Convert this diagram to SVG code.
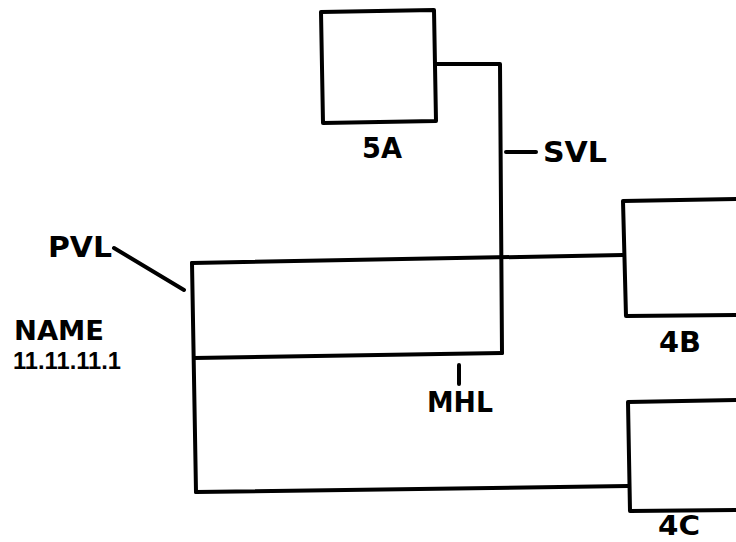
<svg xmlns="http://www.w3.org/2000/svg" width="736" height="542" viewBox="0 0 736 542">
<style>
.ln{fill:none;stroke:#000;stroke-width:4;stroke-linecap:round;stroke-linejoin:round}
.t{font-family:"DejaVu Sans","Liberation Sans",sans-serif;font-weight:bold;font-size:28px;fill:#000}
</style>
<rect width="736" height="542" fill="#fff"/>
<g id="connectors" class="ln">
<polyline points="435,64 500,64 502,353"/>
<line x1="192" y1="263" x2="623" y2="255"/>
<line x1="194" y1="358" x2="502" y2="353"/>
<line x1="192" y1="263" x2="196" y2="492"/>
<line x1="196" y1="492" x2="628" y2="486"/>
<line x1="114" y1="248" x2="184" y2="290"/>
<line x1="506" y1="152" x2="536" y2="152"/>
<line x1="459" y1="365" x2="459" y2="384"/>
</g>
<g id="node-5A">
<polygon class="ln" points="321,12 434,10 436,121 323,123"/>
<text class="t" x="382" y="158" text-anchor="middle" textLength="40" lengthAdjust="spacingAndGlyphs">5A</text>
</g>
<g id="node-4B">
<polyline class="ln" points="738,199 623,201 626,316 738,315"/>
<text class="t" x="680" y="352" text-anchor="middle" textLength="42" lengthAdjust="spacingAndGlyphs">4B</text>
</g>
<g id="node-4C">
<polyline class="ln" points="738,400 628,402 630,511 738,510"/>
<text class="t" x="679" y="535" style="font-size:26px" text-anchor="middle" textLength="42" lengthAdjust="spacingAndGlyphs">4C</text>
</g>
<g id="labels">
<text class="t" x="543" y="162" textLength="64" lengthAdjust="spacingAndGlyphs">SVL</text>
<text class="t" x="48" y="257" textLength="64" lengthAdjust="spacingAndGlyphs">PVL</text>
<text class="t" x="14" y="340" style="font-size:26px" textLength="90" lengthAdjust="spacingAndGlyphs">NAME</text>
<text class="t" x="13" y="369" style="font-family:'Liberation Sans',sans-serif;font-size:23px" textLength="108" lengthAdjust="spacingAndGlyphs">11.11.11.1</text>
<text class="t" x="427" y="412" textLength="66" lengthAdjust="spacingAndGlyphs">MHL</text>
</g>
</svg>
